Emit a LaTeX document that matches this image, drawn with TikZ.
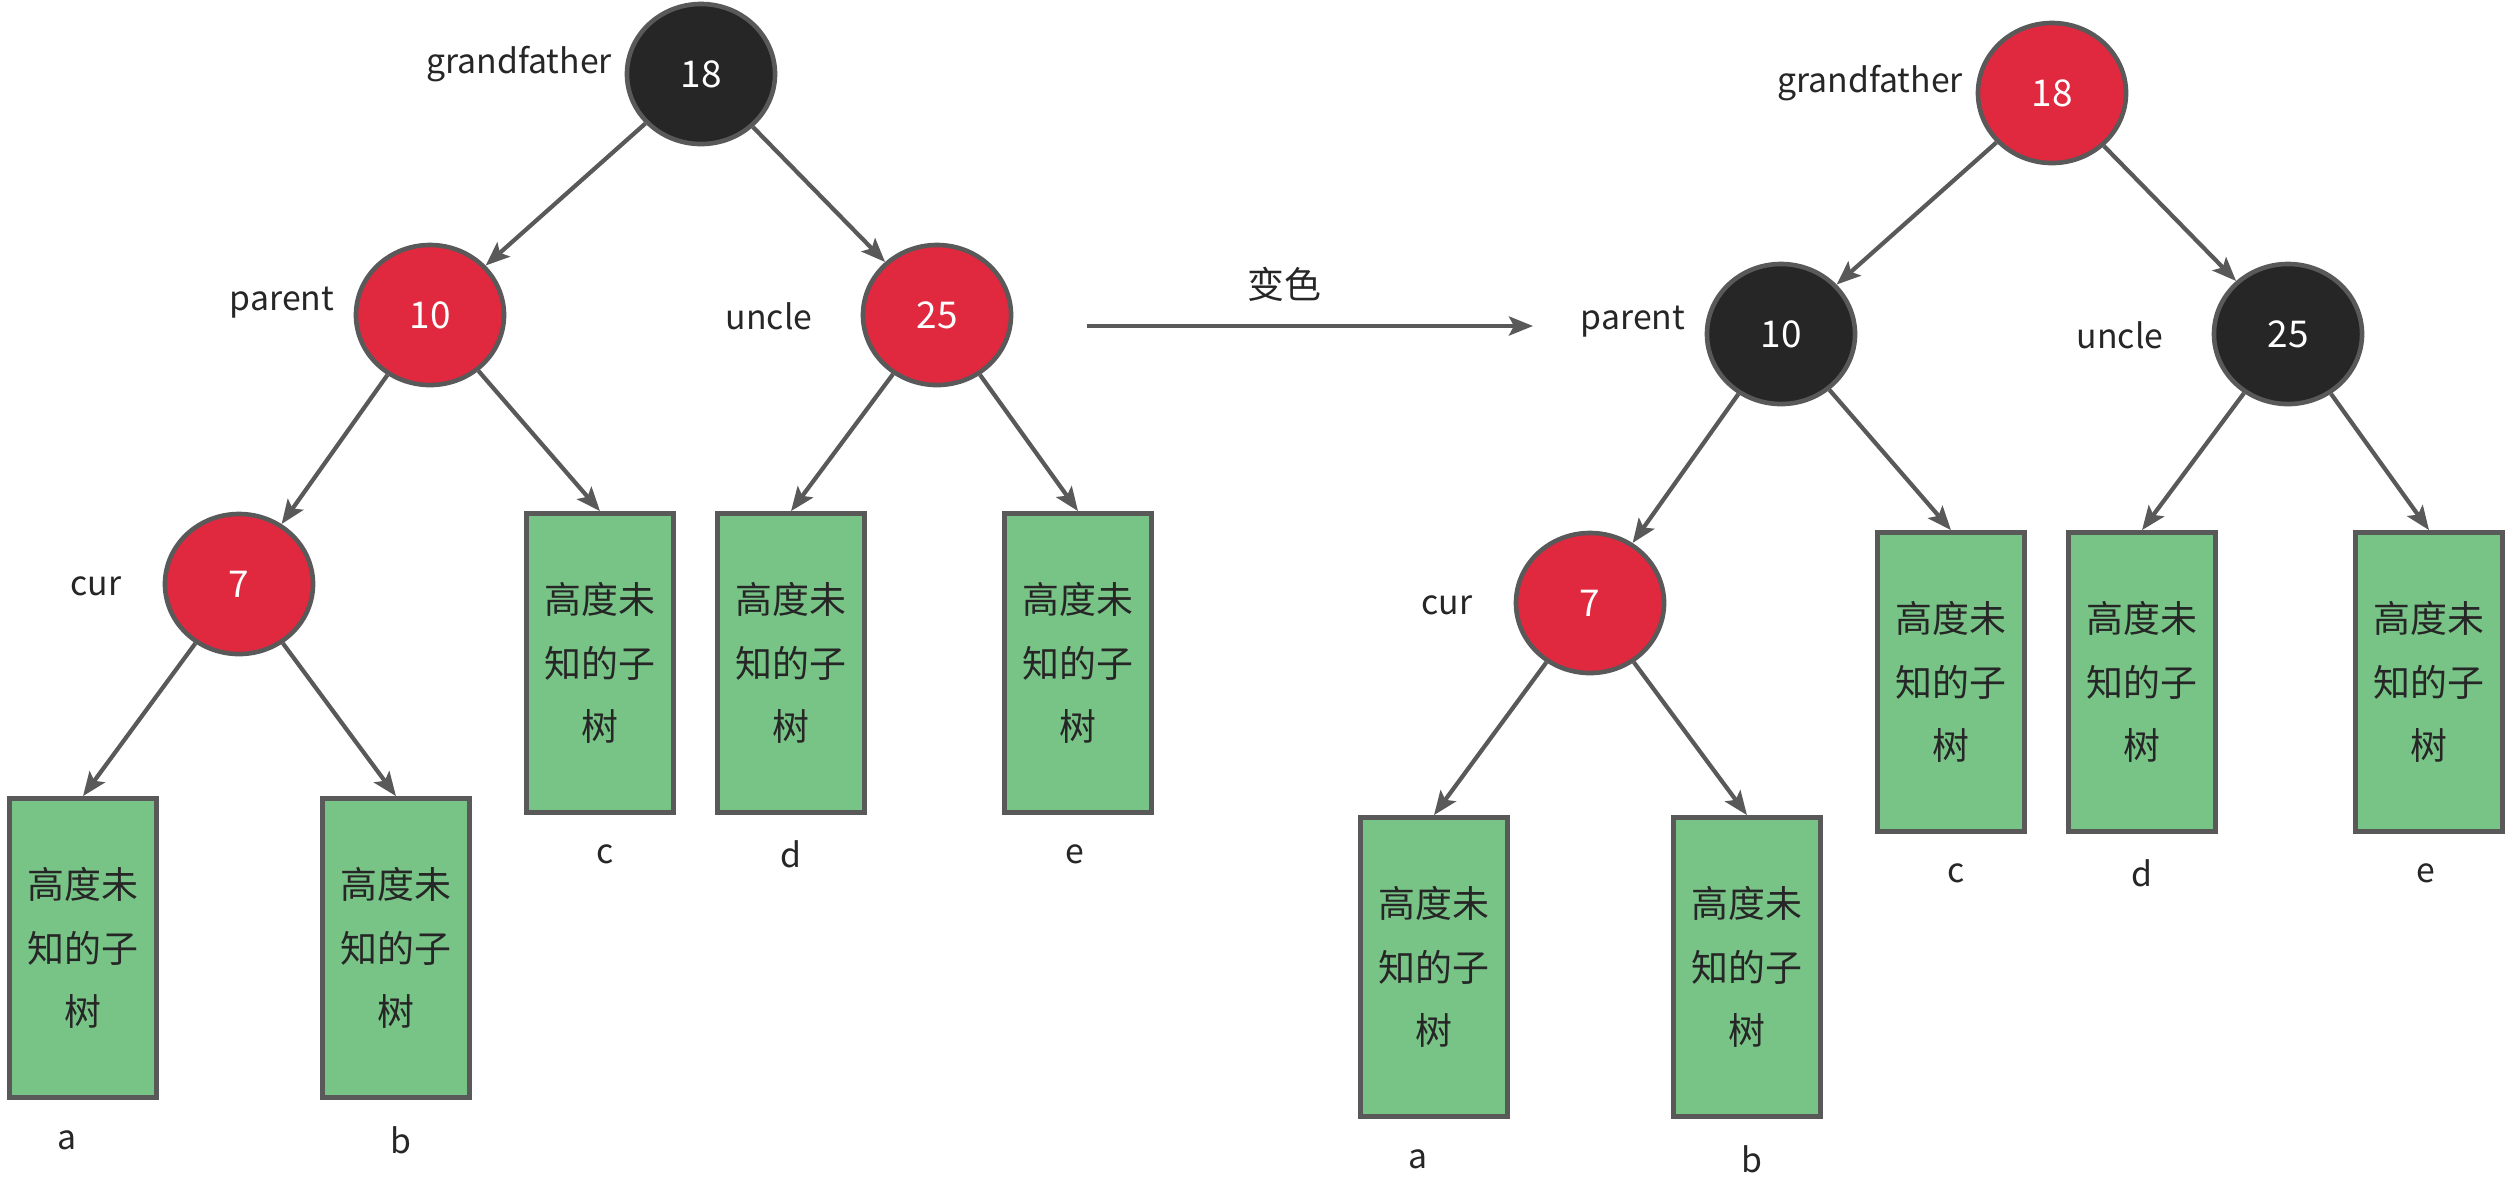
\documentclass[tikz,border=0pt]{standalone}
\usepackage{fontspec}
\setmainfont{Noto Sans CJK SC}
\usepackage{tikz}
\usetikzlibrary{arrows.meta,positioning,shapes.geometric}
\definecolor{rbred}{HTML}{E0283F}
\definecolor{rbblack}{HTML}{262626}
\definecolor{subgreen}{HTML}{78C487}
\definecolor{linegray}{HTML}{595959}
\definecolor{txtgray}{HTML}{262626}

\begin{document}
\begin{tikzpicture}[x=0.01cm,y=-0.01cm,
    every node/.style={font=\fontsize{10.5}{18}\selectfont,text=txtgray},
    rbnode/.style={ellipse,draw=linegray,line width=1.3pt,minimum width=1.48cm,
                   minimum height=1.40cm,text=white},
    subtree/.style={draw=linegray,line width=1.3pt,fill=subgreen,minimum width=1.47cm,
                    minimum height=2.99cm,align=center,inner sep=0pt},
    lbl/.style={inner sep=1pt,font=\fontsize{9.6}{12}\selectfont},
    edge/.style={draw=linegray,line width=1.2pt,-{Stealth[length=2.4mm,width=1.9mm,inset=0.5mm]}}]
  \useasboundingbox (0,0) rectangle (2517,1202);

  % before recolouring
  \node[rbnode,fill=rbblack] (L18) at (701,74)  {18};
  \node[rbnode,fill=rbred]   (L10) at (430,315) {10};
  \node[rbnode,fill=rbred]   (L25) at (937,315) {25};
  \node[rbnode,fill=rbred]   (L7)  at (239,584) {7};
  \node[subtree] (La) at (83,948)  {高度未\\知的子\\树};
  \node[subtree] (Lb) at (396,948) {高度未\\知的子\\树};
  \node[subtree] (Lc) at (600,663) {高度未\\知的子\\树};
  \node[subtree] (Ld) at (791,663) {高度未\\知的子\\树};
  \node[subtree] (Le) at (1078,663) {高度未\\知的子\\树};
  \node[lbl,anchor=east] (Lgf) at (616,64)  {grandfather};
  \node[lbl] (Lpar) at (282,303) {parent};
  \node[lbl] (Lunc) at (769,316) {uncle};
  \node[lbl] (Lcur) at (96,586)  {cur};
  \node[lbl] (Lna) at (67,1140)  {a};
  \node[lbl] (Lnb) at (401,1140) {b};
  \node[lbl] (Lnc) at (605,854)  {c};
  \node[lbl] (Lnd) at (791,854)  {d};
  \node[lbl] (Lne) at (1075,854) {e};
  \draw[edge] (L18) -- (L10);
  \draw[edge] (L18) -- (L25);
  \draw[edge] (L10) -- (L7);
  \draw[edge] (L10) -- (Lc.north);
  \draw[edge] (L25) -- (Ld.north);
  \draw[edge] (L25) -- (Le.north);
  \draw[edge] (L7)  -- (La.north);
  \draw[edge] (L7)  -- (Lb.north);

  % recolour step
  \coordinate (from) at (1087,326);
  \coordinate (to)   at (1533,326);
  \draw[edge] (from) -- (to);
  \node[inner sep=1pt] (chg) at (1284,284) {变色};

  % after recolouring
  \begin{scope}[shift={(1351,19)}]
  \node[rbnode,fill=rbred]   (R18) at (701,74)  {18};
  \node[rbnode,fill=rbblack] (R10) at (430,315) {10};
  \node[rbnode,fill=rbblack] (R25) at (937,315) {25};
  \node[rbnode,fill=rbred]   (R7)  at (239,584) {7};
  \node[subtree] (Ra) at (83,948)  {高度未\\知的子\\树};
  \node[subtree] (Rb) at (396,948) {高度未\\知的子\\树};
  \node[subtree] (Rc) at (600,663) {高度未\\知的子\\树};
  \node[subtree] (Rd) at (791,663) {高度未\\知的子\\树};
  \node[subtree] (Re) at (1078,663) {高度未\\知的子\\树};
  \node[lbl,anchor=east] (Rgf) at (616,64)  {grandfather};
  \node[lbl] (Rpar) at (282,303) {parent};
  \node[lbl] (Runc) at (769,316) {uncle};
  \node[lbl] (Rcur) at (96,586)  {cur};
  \node[lbl] (Rna) at (67,1140)  {a};
  \node[lbl] (Rnb) at (401,1140) {b};
  \node[lbl] (Rnc) at (605,854)  {c};
  \node[lbl] (Rnd) at (791,854)  {d};
  \node[lbl] (Rne) at (1075,854) {e};
  \end{scope}
  \draw[edge] (R18) -- (R10);
  \draw[edge] (R18) -- (R25);
  \draw[edge] (R10) -- (R7);
  \draw[edge] (R10) -- (Rc.north);
  \draw[edge] (R25) -- (Rd.north);
  \draw[edge] (R25) -- (Re.north);
  \draw[edge] (R7)  -- (Ra.north);
  \draw[edge] (R7)  -- (Rb.north);
\end{tikzpicture}
\end{document}
